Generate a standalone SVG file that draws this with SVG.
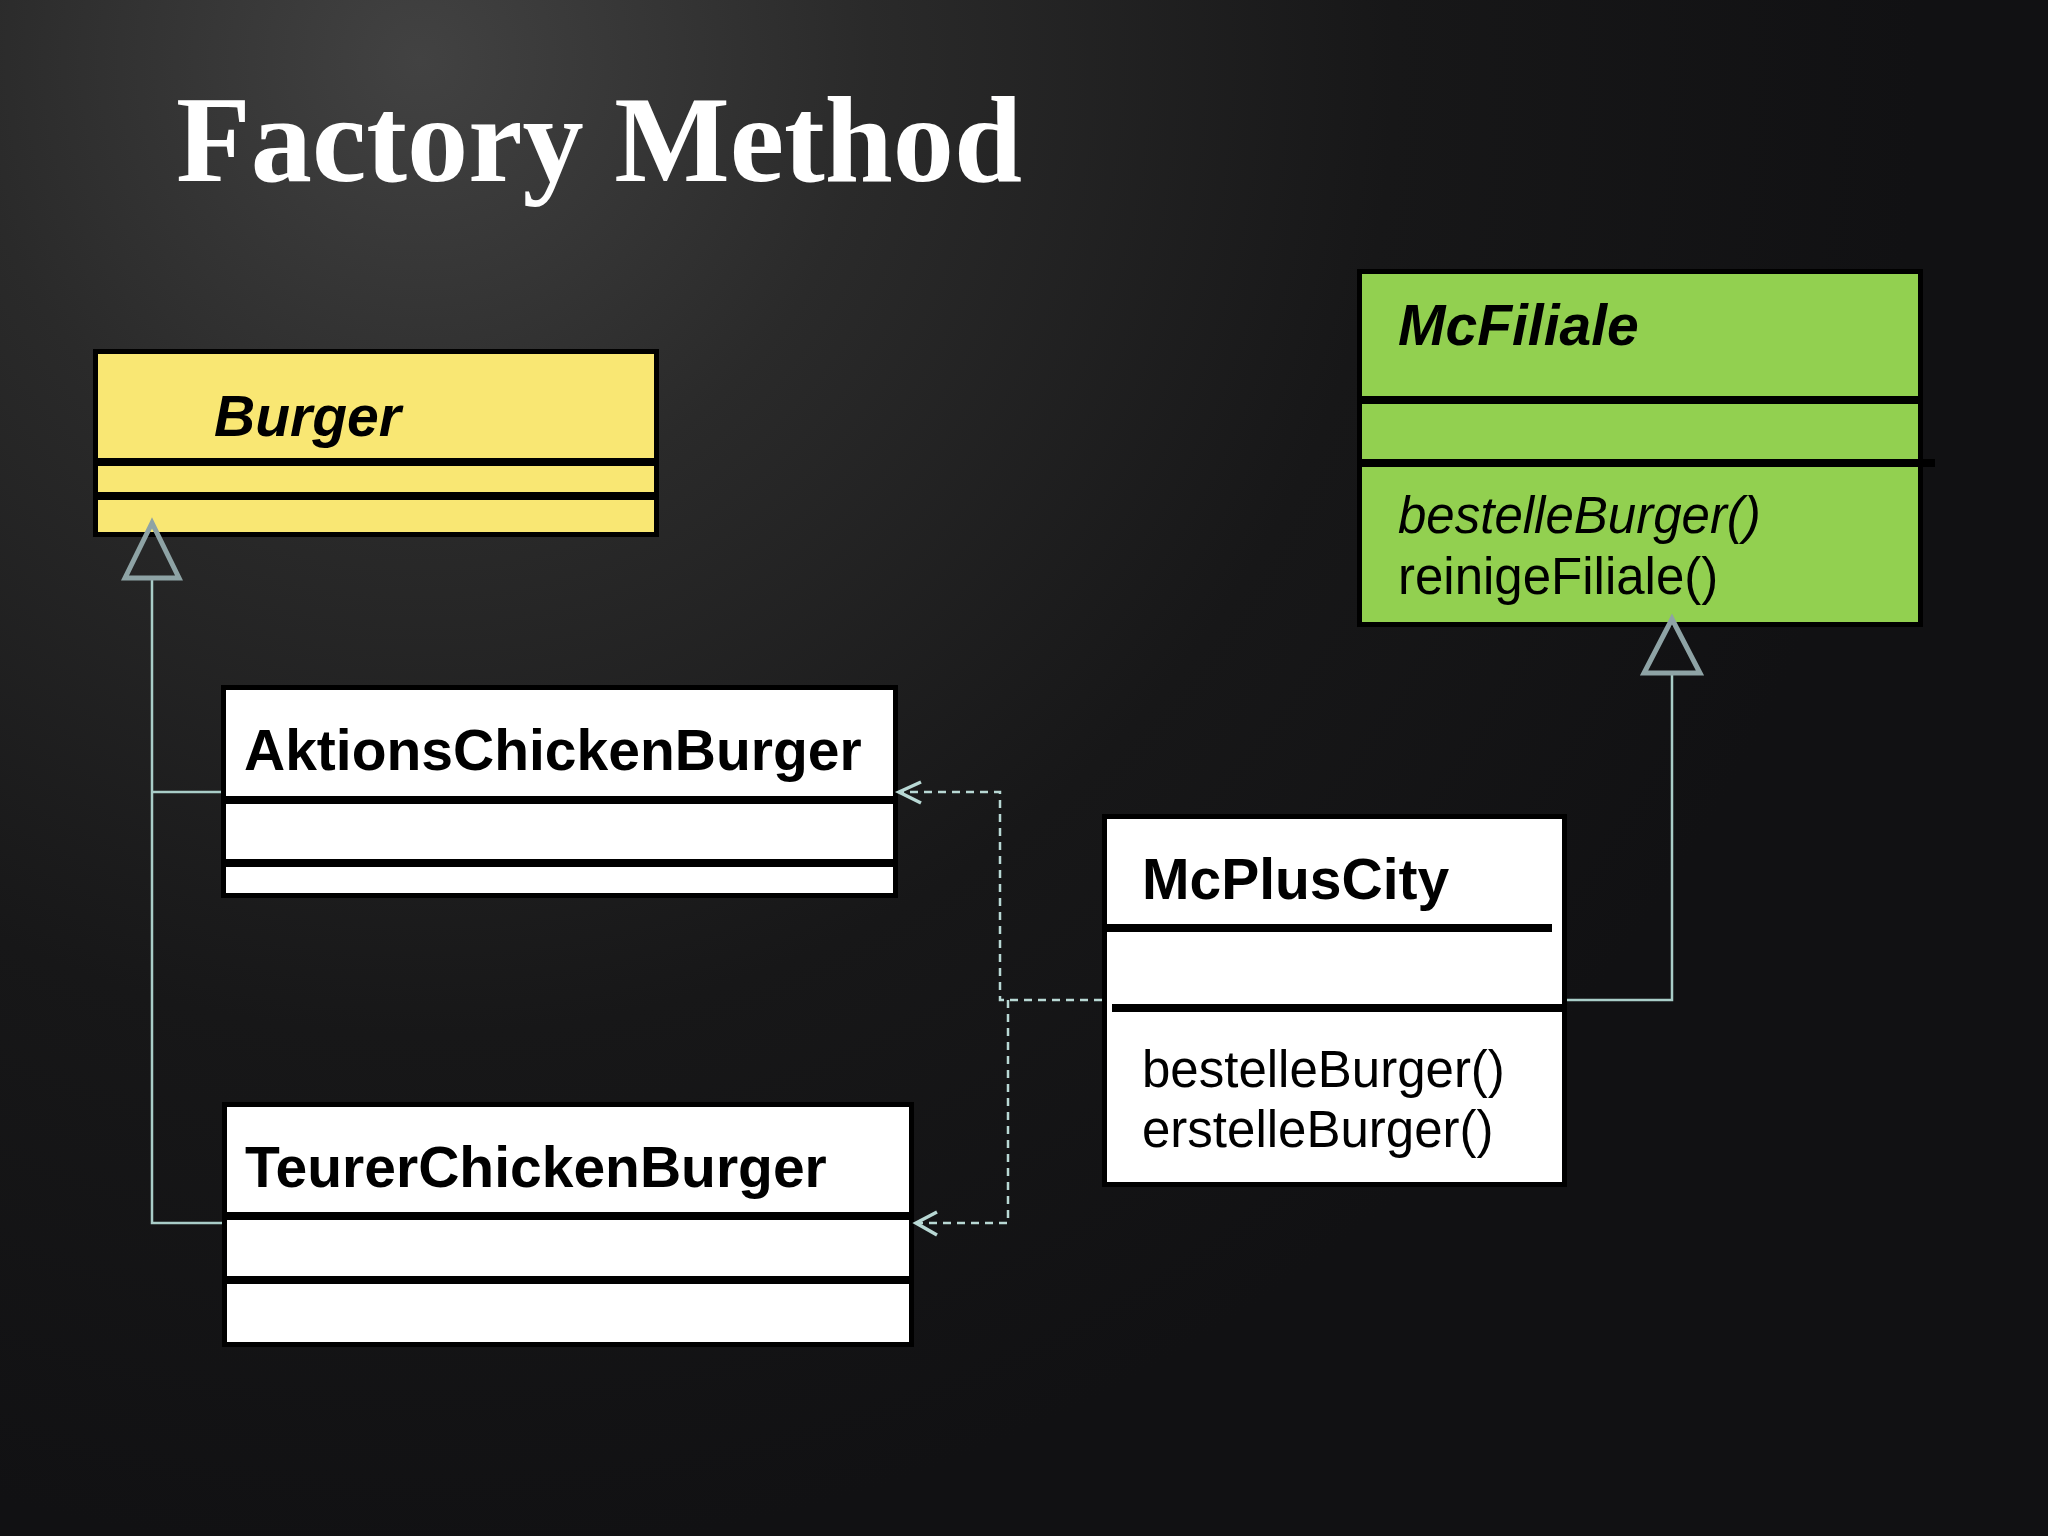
<svg xmlns="http://www.w3.org/2000/svg" width="2048" height="1536" viewBox="0 0 2048 1536">
  <defs>
    <radialGradient id="bg" cx="420" cy="60" r="1500" gradientUnits="userSpaceOnUse">
      <stop offset="0" stop-color="#424242"/>
      <stop offset="0.3" stop-color="#2a2a2a"/>
      <stop offset="0.65" stop-color="#171718"/>
      <stop offset="1" stop-color="#111113"/>
    </radialGradient>
    <style>
      .box { stroke: #000; stroke-width: 5; }
      .sep { stroke: #000; stroke-width: 8; }
      .cls { font-family: "Liberation Sans", Arial, sans-serif; font-weight: bold; font-size: 57px; fill: #000; }
      .abs { font-style: italic; }
      .op { font-family: "Liberation Sans", Arial, sans-serif; font-size: 51px; fill: #000; }
      .gen { fill: none; stroke: #a9cdc8; stroke-width: 2.5; }
      .tri { fill: none; stroke: #8ea3a5; stroke-width: 5; stroke-linejoin: miter; }
      .dep { fill: none; stroke: #b8d8d4; stroke-width: 2.5; stroke-dasharray: 8 6; }
      .head { fill: none; stroke: #b8d8d4; stroke-width: 3.5; }
    </style>
  </defs>
  <rect x="0" y="0" width="2048" height="1536" fill="url(#bg)"/>
  <text x="176" y="181" font-family="'Liberation Serif', 'Times New Roman', serif" font-size="122" font-weight="bold" fill="#ffffff" textLength="846" lengthAdjust="spacingAndGlyphs">Factory Method</text>

  <g id="Burger">
    <rect class="box" x="95.5" y="351.5" width="561" height="183" fill="#f9e773"/>
    <line class="sep" x1="98" y1="462" x2="654" y2="462"/>
    <line class="sep" x1="98" y1="496" x2="654" y2="496"/>
    <text class="cls abs" x="214" y="436">Burger</text>
  </g>

  <g id="McFiliale">
    <rect class="box" x="1359.5" y="271.5" width="561" height="353" fill="#92d050"/>
    <line class="sep" x1="1362" y1="400" x2="1918" y2="400"/>
    <line class="sep" x1="1362" y1="463" x2="1935" y2="463"/>
    <text class="cls abs" x="1398" y="345">McFiliale</text>
    <text class="op" x="1398" y="533" font-style="italic">bestelleBurger()</text>
    <text class="op" x="1398" y="594">reinigeFiliale()</text>
  </g>

  <g id="AktionsChickenBurger">
    <rect class="box" x="223.5" y="687.5" width="672" height="208" fill="#ffffff"/>
    <line class="sep" x1="226" y1="800" x2="893" y2="800"/>
    <line class="sep" x1="226" y1="863" x2="893" y2="863"/>
    <text class="cls" x="244" y="770">AktionsChickenBurger</text>
  </g>

  <g id="TeurerChickenBurger">
    <rect class="box" x="224.5" y="1104.5" width="687" height="240" fill="#ffffff"/>
    <line class="sep" x1="227" y1="1216" x2="909" y2="1216"/>
    <line class="sep" x1="227" y1="1280" x2="909" y2="1280"/>
    <text class="cls" x="245" y="1187">TeurerChickenBurger</text>
  </g>

  <g id="McPlusCity">
    <rect class="box" x="1104.5" y="816.5" width="460" height="368" fill="#ffffff"/>
    <line class="sep" x1="1107" y1="928" x2="1552" y2="928"/>
    <line class="sep" x1="1112" y1="1008" x2="1565" y2="1008"/>
    <text class="cls" x="1142" y="899">McPlusCity</text>
    <text class="op" x="1142" y="1087">bestelleBurger()</text>
    <text class="op" x="1142" y="1147">erstelleBurger()</text>
  </g>

  <g id="connectors">
    <path class="gen" d="M152,578 V1223 H222 M152,792 H221"/>
    <polygon class="tri" points="152,523 125,578 179,578"/>
    <path class="gen" d="M1567,1000 H1672 V673"/>
    <polygon class="tri" points="1672,619 1644,673 1700,673"/>
    <path class="dep" d="M1102,1000 H1000 V792 H900"/>
    <path class="dep" d="M1008,1000 V1223 H917"/>
    <polyline class="head" points="921,782 899,792 921,803"/>
    <polyline class="head" points="937,1212 916,1223 937,1235"/>
  </g>
</svg>
